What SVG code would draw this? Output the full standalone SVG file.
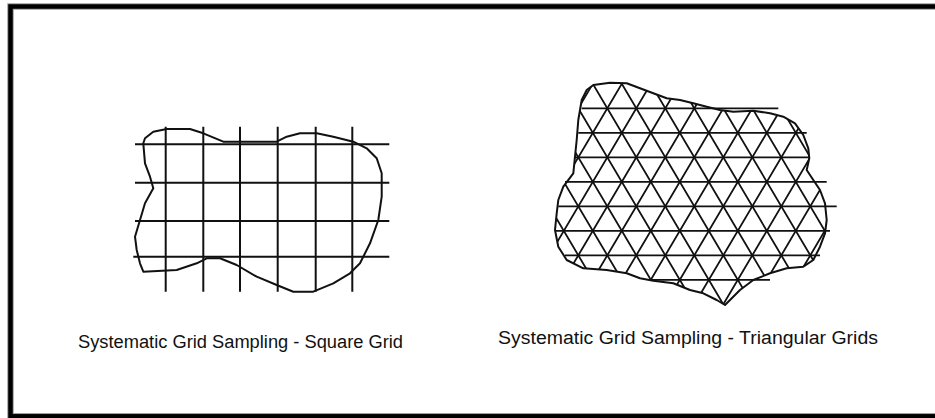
<svg xmlns="http://www.w3.org/2000/svg" width="935" height="418" viewBox="0 0 935 418">
  <style>
    .frame-fringe { fill: none; stroke: #9a9a9a; stroke-width: 6.5; }
    .frame { fill: none; stroke: #000; stroke-width: 4.5; }
    .grid { fill: none; stroke: #111; stroke-width: 2; }
    .tri { fill: none; stroke: #111; stroke-width: 1.8; }
    .outline { fill: none; stroke: #111; stroke-width: 2; stroke-linejoin: round; }
    .caption { font-family: "Liberation Sans", Arial, sans-serif; font-size: 18px; fill: #111; }
  </style>
  <defs>
    <clipPath id="triClip">
      <path d="M593.3,85 L610,82.7 L626.7,83.3 L640,88.3 L653.3,93.3 L666.7,98.3 L680,100 L693.3,103.3 L706.7,106.7 L720,110 L733.3,111.7 L753.3,110.7 L770,113.3 L783.3,116.7 L795,123.3 L803.3,135 L808.3,148.3 L809.3,158.3 L806.7,170 L813.3,180 L820,190 L825,203.3 L826.7,220 L825,233.3 L820,246.7 L813.3,260 L803.3,266.7 L786.7,268.3 L770,273.3 L753.3,280 L740,290 L730,300 L725,305 L716.7,300 L703.3,293.3 L690,290 L673.3,283.3 L653.3,280.7 L640,278.3 L626.7,273.3 L606.7,270 L583.3,268.3 L566.7,260 L558.3,246.7 L555,230 L556.7,213.3 L558.3,200 L563.3,186.7 L573.3,173.3 L575,156.7 L576.7,140 L578.3,120 L581.7,100 L586.7,90 Z"/>
    </clipPath>
  </defs>

  <rect id="frame-fringe" class="frame-fringe" x="10.5" y="6.5" width="940" height="409.8"/>
  <rect id="frame" class="frame" x="10.5" y="6.5" width="940" height="409.8"/>

  <g id="square-grid-figure">
    <path class="outline" d="M143.3,143.3 L145,138.3 L153.3,131.7 L166.7,129 L190,129 L203.3,133.3 L223.3,141.7 L276.7,141.7 L286.7,136.7 L300,133.3 L316.7,133.3 L333.3,136.7 L353.3,141.7 L366.7,148.3 L376.7,158.3 L381.7,173.3 L381.7,196.7 L378.3,220 L370,243.3 L360,263.3 L350,273.3 L333.3,283.3 L313.3,291.7 L293.3,291.7 L276.7,285 L256.7,276.7 L236.7,265 L220,258.3 L206.7,258.3 L196.7,263.3 L176.7,270 L143.3,271.7 L140,263.3 L136.7,250 L135,236.7 L140,220 L145,203.3 L153.3,188.3 L150,176.7 L145,163.3 Z"/>
    <path class="grid" d="M165.7,126.7 V291.7 M203.3,126.7 V291.7 M240,126.7 V291.7 M277.7,126.7 V291.7 M315.7,126.7 V291.7 M352.3,126.7 V291.7 M135,144.3 H389.3 M135,182.7 H389.3 M135,221 H389.3 M133.3,256.7 H389.3"/>
  </g>

  <g id="triangular-grid-figure">
    <g clip-path="url(#triClip)">
      <path class="tri" transform="translate(578.3,108.3)" d="M-193.71,-33.3 l142.03,240 m-113.03,-240 l142.03,240 m-113.03,-240 l142.03,240 m-113.03,-240 l142.03,240 m-113.03,-240 l142.03,240 m-113.03,-240 l142.03,240 m-113.03,-240 l142.03,240 m-113.03,-240 l142.03,240 m-113.03,-240 l142.03,240 m-113.03,-240 l142.03,240 m-113.03,-240 l142.03,240 m-113.03,-240 l142.03,240 m-113.03,-240 l142.03,240 m-113.03,-240 l142.03,240 m-113.03,-240 l142.03,240 m-113.03,-240 l142.03,240 m-113.03,-240 l142.03,240"/>
      <path class="tri" transform="translate(578.3,108.3)" d="M-38.29,-33.3 l-142.03,240 m171.03,-240 l-142.03,240 m171.03,-240 l-142.03,240 m171.03,-240 l-142.03,240 m171.03,-240 l-142.03,240 m171.03,-240 l-142.03,240 m171.03,-240 l-142.03,240 m171.03,-240 l-142.03,240 m171.03,-240 l-142.03,240 m171.03,-240 l-142.03,240 m171.03,-240 l-142.03,240 m171.03,-240 l-142.03,240 m171.03,-240 l-142.03,240 m171.03,-240 l-142.03,240 m171.03,-240 l-142.03,240 m171.03,-240 l-142.03,240"/>
    </g>
    <path class="tri" d="M581.7,108.3 H778.3 M578.3,132.8 H806.7 M575,157.3 H810 M565,181.8 H826.7 M558.3,206.3 H836.7 M555,230.8 H830 M565,255.3 H820 M650,279.8 H770"/>
    <path class="outline" d="M593.3,85 L610,82.7 L626.7,83.3 L640,88.3 L653.3,93.3 L666.7,98.3 L680,100 L693.3,103.3 L706.7,106.7 L720,110 L733.3,111.7 L753.3,110.7 L770,113.3 L783.3,116.7 L795,123.3 L803.3,135 L808.3,148.3 L809.3,158.3 L806.7,170 L813.3,180 L820,190 L825,203.3 L826.7,220 L825,233.3 L820,246.7 L813.3,260 L803.3,266.7 L786.7,268.3 L770,273.3 L753.3,280 L740,290 L730,300 L725,305 L716.7,300 L703.3,293.3 L690,290 L673.3,283.3 L653.3,280.7 L640,278.3 L626.7,273.3 L606.7,270 L583.3,268.3 L566.7,260 L558.3,246.7 L555,230 L556.7,213.3 L558.3,200 L563.3,186.7 L573.3,173.3 L575,156.7 L576.7,140 L578.3,120 L581.7,100 L586.7,90 Z"/>
  </g>

  <g id="captions">
    <text id="caption-square" class="caption" x="78" y="348" textLength="325" lengthAdjust="spacingAndGlyphs">Systematic Grid Sampling - Square Grid</text>
    <text id="caption-triangular" class="caption" x="498" y="344" textLength="380" lengthAdjust="spacingAndGlyphs">Systematic Grid Sampling - Triangular Grids</text>
  </g>
</svg>
